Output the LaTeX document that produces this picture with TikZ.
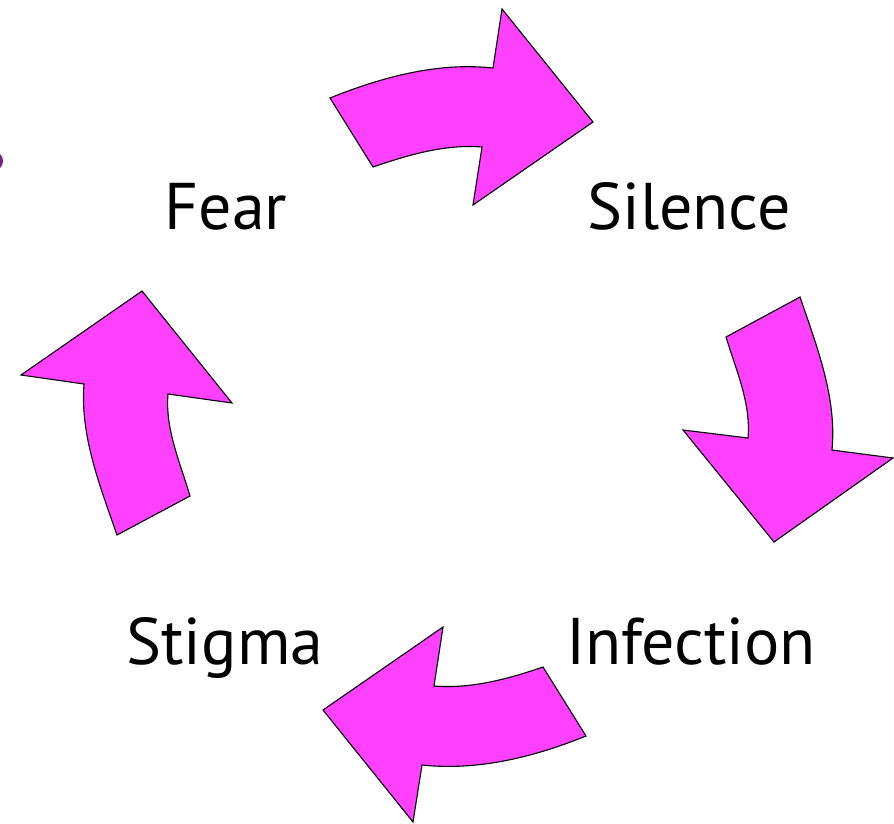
\documentclass[tikz,border=0pt]{standalone}
\usepackage{fontspec}
\setmainfont{PT Sans}
\definecolor{cyclepink}{HTML}{FF40FF}
\definecolor{edgepurple}{HTML}{7A1F7A}
\begin{document}
\begin{tikzpicture}[x=1pt,y=-1pt,
  cyclearrow/.style={fill=cyclepink,draw=black,line width=1.1pt,line join=miter},
  word/.style={font=\fontsize{66}{70}\selectfont,anchor=base}]
\useasboundingbox (0,0) rectangle (894,823);

\begin{scope}
\clip (0,0) rectangle (894,823);
\fill [edgepurple] (-5,161) ellipse (8 and 9);
\end{scope}

\node[word] (fear) at (226,229) {Fear};
\node[word] (silence) at (689,229) {Silence};
\node[word] (infection) at (691,664) {Infection};
\node[word] (stigma) at (225,664) {Stigma};

% fear -> silence
\draw [cyclearrow] (330,98) .. controls (382,77) and (438,62) .. (493,68) -- (502,9) -- (593,122)
  -- (473,205) -- (482,147) .. controls (445,144) and (408,155) .. (373,167) -- cycle;

% silence -> infection
\draw [cyclearrow] (726,337) -- (800,297) .. controls (817,347) and (837,398) .. (832,450)
  -- (893,458) -- (774,542) -- (683,430) -- (748,438) .. controls (751,403) and (736,370) .. cycle;

% infection -> stigma
\draw [cyclearrow] (543,667) -- (586,736) .. controls (534,757) and (478,771) .. (422,765)
  -- (413,822) -- (323,710) -- (443,627) -- (434,686) .. controls (471,689) and (508,679) .. cycle;

% stigma -> fear
\draw [cyclearrow] (117,535) -- (190,496) .. controls (180,462) and (165,429) .. (168,394)
  -- (232,403) -- (142,291) -- (21,375) -- (84,384) .. controls (80,436) and (100,486) .. cycle;

\end{tikzpicture}
\end{document}
